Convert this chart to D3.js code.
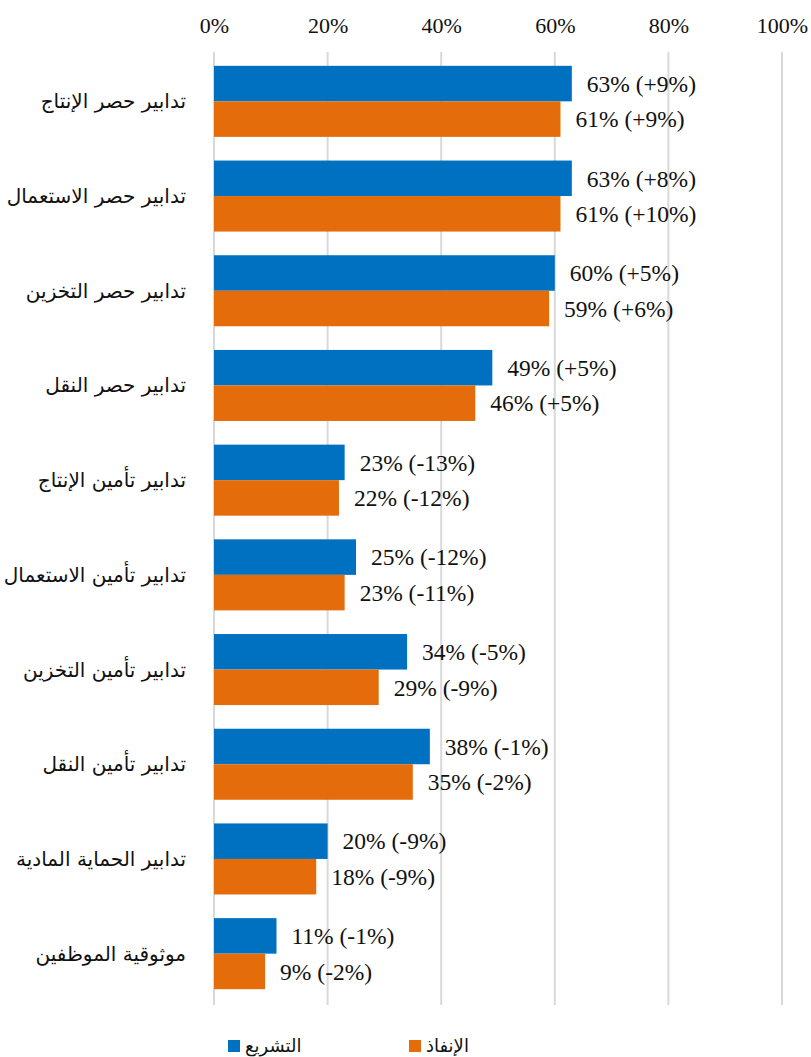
<!DOCTYPE html>
<html>
<head>
<meta charset="utf-8">
<script src="https://cdn.jsdelivr.net/npm/d3@7"></script>
<style>
  body { margin: 0; background: #fff; }
  svg { display: block; }
</style>
</head>
<body>
<div id="chart"></div>
<script>
// Data
var categories = [
  "تدابير حصر الإنتاج",
  "تدابير حصر الاستعمال",
  "تدابير حصر التخزين",
  "تدابير حصر النقل",
  "تدابير تأمين الإنتاج",
  "تدابير تأمين الاستعمال",
  "تدابير تأمين التخزين",
  "تدابير تأمين النقل",
  "تدابير الحماية المادية",
  "موثوقية الموظفين"
];
var seriesNames = ["التشريع", "الإنفاذ"];
var legislation = [63, 63, 60, 49, 23, 25, 34, 38, 20, 11];
var legislationChange = ["+9%", "+8%", "+5%", "+5%", "-13%", "-12%", "-5%", "-1%", "-9%", "-1%"];
var enforcement = [61, 61, 59, 46, 22, 23, 29, 35, 18, 9];
var enforcementChange = ["+9%", "+10%", "+6%", "+5%", "-12%", "-11%", "-9%", "-2%", "-9%", "-2%"];
var tickValues = [0, 20, 40, 60, 80, 100];

let width = 811;
let height = 1057;
let colors = ["#0070C0", "#E46C0A"];
let numFont = "'Liberation Serif', 'Times New Roman', serif";
let arFont = "'DejaVu Sans', 'Liberation Sans', sans-serif";

let svg = d3.select("#chart").append("svg")
  .attr("width", width)
  .attr("height", height);

// Scales
let x = d3.scaleLinear()
  .domain([0, 100])
  .range([214, 782]);

let y = d3.scaleBand()
  .domain(categories)
  .range([54, 1001])
  .paddingInner(0.25)
  .paddingOuter(0.125);

let sub = d3.scaleBand()
  .domain([0, 1])
  .range([0, y.bandwidth()]);

// Gridlines
svg.append("g")
  .selectAll("line")
  .data(tickValues)
  .join("line")
  .attr("x1", d => x(d))
  .attr("x2", d => x(d))
  .attr("y1", 52)
  .attr("y2", 1005)
  .style("stroke", "#d9d9d9")
  .style("stroke-width", 2);

// Top axis
let axis = d3.axisTop(x)
  .tickValues(tickValues)
  .tickFormat(d => d + "%")
  .tickSize(0)
  .tickPadding(0);

let axisG = svg.append("g")
  .attr("transform", "translate(0, 33)")
  .call(axis);
axisG.select(".domain").remove();
axisG.selectAll("text")
  .style("font-family", numFont)
  .style("font-size", "22px")
  .style("fill", "#111");

// Category labels
svg.append("g")
  .selectAll("text")
  .data(categories)
  .join("text")
  .attr("x", 186)
  .attr("y", d => y(d) + y.bandwidth() / 2)
  .attr("dy", "0.35em")
  .attr("text-anchor", "end")
  .style("font-family", arFont)
  .style("font-size", "20px")
  .style("fill", "#111")
  .text(d => d);

// Bars
let series = [
  { values: legislation, changes: legislationChange },
  { values: enforcement, changes: enforcementChange }
];

series.forEach(function (s, i) {
  let g = svg.append("g");
  g.selectAll("rect")
    .data(categories)
    .join("rect")
    .attr("x", x(0))
    .attr("y", (d, j) => y(d) + sub(i))
    .attr("width", (d, j) => x(s.values[j]) - x(0))
    .attr("height", sub.bandwidth())
    .style("fill", colors[i]);

  g.selectAll("text")
    .data(categories)
    .join("text")
    .attr("x", (d, j) => x(s.values[j]) + 15)
    .attr("y", (d, j) => y(d) + sub(i) + sub.bandwidth() / 2)
    .attr("dy", "0.35em")
    .style("font-family", numFont)
    .style("font-size", "23.5px")
    .style("fill", "#111")
    .style("direction", "ltr")
    .style("unicode-bidi", "bidi-override")
    .text((d, j) => s.values[j] + "% (" + s.changes[j] + ")");
});

// Legend
let legendX = [228, 409];
seriesNames.forEach(function (name, i) {
  svg.append("rect")
    .attr("x", legendX[i])
    .attr("y", 1040)
    .attr("width", 12)
    .attr("height", 12)
    .style("fill", colors[i]);
  svg.append("text")
    .attr("x", legendX[i] + 17)
    .attr("y", 1052)
    .style("font-family", arFont)
    .style("font-size", "18px")
    .style("fill", "#111")
    .text(name);
});
</script>
</body>
</html>
